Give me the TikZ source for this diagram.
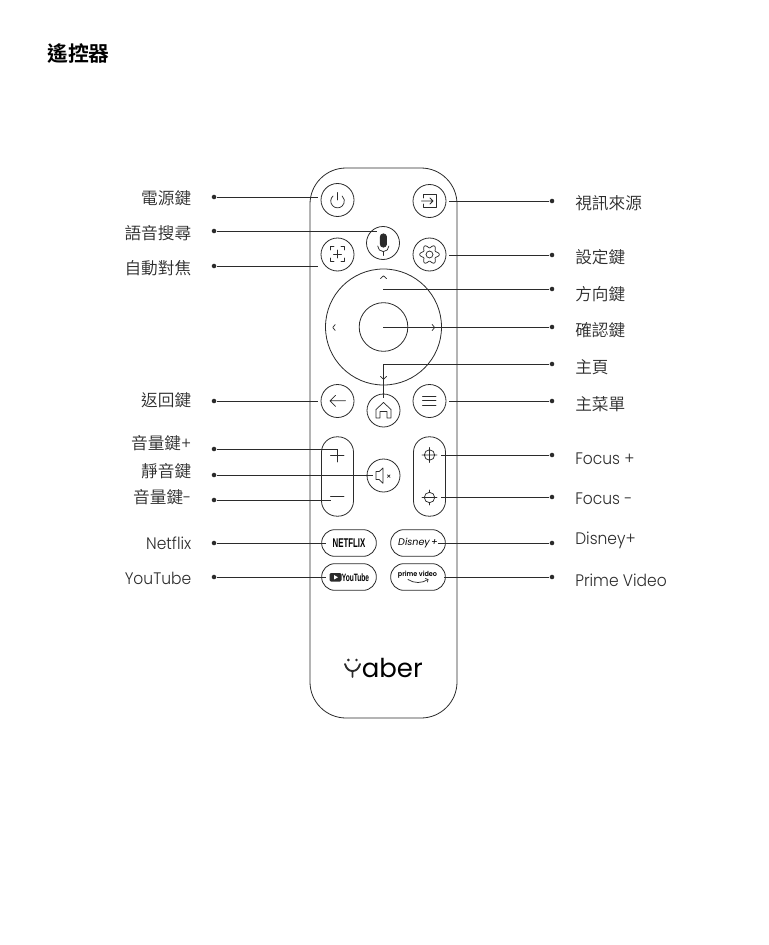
\documentclass[tikz,border=0pt]{standalone}
\usepackage{fontspec}
\usepackage{xcolor}
\setmainfont[FakeStretch=0.93]{Poppins Light}[BoldFont=Poppins SemiBold]
\newfontfamily\cjk{Noto Sans CJK TC DemiLight}[BoldFont=Noto Sans CJK TC Bold]
\newfontfamily\condfont[FakeStretch=0.62]{Liberation Sans}
\newfontfamily\logofont{Poppins}
\definecolor{inkline}{HTML}{2B2B2B}
\begin{document}
\begin{tikzpicture}[
            x=0.75pt, y=-0.75pt,
            btn/.style={circle, draw=inkline, line width=0.6pt, minimum size=24.75pt, inner sep=0pt},
            capsule/.style={rectangle, draw=inkline, line width=0.6pt, rounded corners=11.5pt, minimum width=24pt, minimum height=59.5pt, inner sep=0pt},
            pill/.style={rectangle, draw=inkline, line width=0.6pt, rounded corners=9.9pt, minimum width=41pt, minimum height=20pt, inner sep=0pt},
            pin/.style={circle, fill=inkline, minimum size=3.4pt, inner sep=0pt},
            leader/.style={draw=inkline, line width=0.55pt},
            icon/.style={draw=inkline, line width=0.55pt, line cap=round, line join=round},
            leftlabel/.style={anchor=east, inner sep=0pt, text=inkline, font=\fontsize{12.5}{14}\selectfont},
            rightlabel/.style={anchor=west, inner sep=0pt, text=inkline, font=\fontsize{12.5}{14}\selectfont}
        ]
            \useasboundingbox (0,0) rectangle (768,945);

            % Title
            \node[anchor=west, inner sep=0pt, font=\fontsize{15.6}{18}\selectfont\cjk\bfseries] (title) at (47,53.5) {遙控器};

            % Remote body
            \node[rectangle, draw=inkline, line width=0.6pt, rounded corners=27pt, minimum width=110.25pt, minimum height=412.5pt] (body) at (383.5,443) {};

            % Round buttons
            \node[btn] (power) at (337.5,200) {};
            \node[btn] (input) at (429.5,201) {};
            \node[btn] (mic) at (383,243) {};
            \node[btn] (autofocus) at (337.5,254.5) {};
            \node[btn] (settings) at (429.5,254.5) {};
            \node[btn] (back) at (337.5,401) {};
            \node[btn] (home) at (383.5,410.5) {};
            \node[btn] (menu) at (429.5,401) {};
            \node[btn] (mute) at (383.5,475.5) {};

            % Direction ring
            \node[circle, draw=inkline, line width=0.6pt, minimum size=87pt, inner sep=0pt] (ring) at (383.5,327) {};
            \node[circle, draw=inkline, line width=0.6pt, minimum size=36.5pt, inner sep=0pt] (okbtn) at (383.5,327) {};

            % Capsules
            \node[capsule] (volume) at (337.5,476.5) {};
            \node[capsule] (focusbar) at (429.5,476.5) {};

            % App buttons
            \node[pill, font=\fontsize{9.5}{10}\condfont\bfseries] (netflix) at (349,543) {NETFLIX};
            \node[pill] (disney) at (418,543) {};
            \node[pill] (youtube) at (349,577) {};
            \node[pill] (prime) at (418,577) {};
            \node[inner sep=0pt, font=\fontsize{7.2}{8}\logofont\itshape] (disneytext) at (418,543) {Disney\hspace{1pt}+};
            \node[inner sep=0pt, font=\fontsize{8}{9}\condfont\bfseries] (youtubetext) at (355.5,577.5) {YouTube};
            \node[inner sep=0pt, font=\fontsize{5.2}{6}\selectfont\bfseries] (primetext) at (417.5,574.5) {prime video};

            % Logo
            \node[anchor=base west, inner sep=0pt, font=\fontsize{19.5}{22}\logofont] (logo) at (361.5,677) {aber};

            % Left labels
            \node[leftlabel] (powerlabel) at (191.5,198) {\cjk 電源鍵};
            \node[leftlabel] (voicelabel) at (191.5,233.5) {\cjk 語音搜尋};
            \node[leftlabel] (autolabel) at (191.5,268.5) {\cjk 自動對焦};
            \node[leftlabel] (backlabel) at (191.5,400) {\cjk 返回鍵};
            \node[leftlabel] (uplabel) at (191.5,443) {{\cjk 音量鍵}+};
            \node[leftlabel] (mutelabel) at (191.5,471) {\cjk 靜音鍵};
            \node[leftlabel] (downlabel) at (191.5,497) {{\cjk 音量鍵}-};
            \node[leftlabel] (netflixlabel) at (191.5,543) {Netflix};
            \node[leftlabel] (youtubelabel) at (191.5,578) {YouTube};

            % Right labels
            \node[rightlabel] (inputlabel) at (575,203) {\cjk 視訊來源};
            \node[rightlabel] (setlabel) at (575,257) {\cjk 設定鍵};
            \node[rightlabel] (dirlabel) at (575,294) {\cjk 方向鍵};
            \node[rightlabel] (oklabel) at (575,330) {\cjk 確認鍵};
            \node[rightlabel] (homelabel) at (575,367) {\cjk 主頁};
            \node[rightlabel] (menulabel) at (575,404) {\cjk 主菜單};
            \node[rightlabel] (fpluslabel) at (575,458.5) {Focus +};
            \node[rightlabel] (fminuslabel) at (575,498.5) {Focus -};
            \node[rightlabel] (disneylabel) at (575,540) {Disney+};
            \node[rightlabel] (primelabel) at (575,580) {Prime Video};

            % Left pins
            \node[pin] (powerpin) at (214,197) {};
            \node[pin] (voicepin) at (214,231) {};
            \node[pin] (autopin) at (214,266) {};
            \node[pin] (backpin) at (214,401) {};
            \node[pin] (uppin) at (214,449) {};
            \node[pin] (mutepin) at (214,475) {};
            \node[pin] (downpin) at (214,500) {};
            \node[pin] (netflixpin) at (214,543) {};
            \node[pin] (youtubepin) at (214,577) {};

            % Right pins
            \node[pin] (inputpin) at (552,201) {};
            \node[pin] (setpin) at (552,255) {};
            \node[pin] (dirpin) at (552,289) {};
            \node[pin] (okpin) at (552,327) {};
            \node[pin] (homepin) at (552,364) {};
            \node[pin] (menupin) at (552,401) {};
            \node[pin] (fpluspin) at (552,455) {};
            \node[pin] (fminuspin) at (552,497) {};
            \node[pin] (disneypin) at (552,543) {};
            \node[pin] (primepin) at (552,577) {};

            % Free line ends
            \coordinate (powerend) at (318,197);
            \coordinate (voiceend) at (377,231);
            \coordinate (autoend) at (318,266);
            \coordinate (backend) at (318,401);
            \coordinate (upend) at (338,449);
            \coordinate (muteend) at (373,475);
            \coordinate (downend) at (331,500);
            \coordinate (netflixend) at (326,543);
            \coordinate (youtubeend) at (326,577);
            \coordinate (inputend) at (449,201);
            \coordinate (setend) at (449,255);
            \coordinate (dirend) at (383,289);
            \coordinate (okend) at (383,327);
            \coordinate (homeend) at (383,398);
            \coordinate (menuend) at (449,401);
            \coordinate (fplusend) at (441,455);
            \coordinate (fminusend) at (441,497);
            \coordinate (disneyend) at (438,543);
            \coordinate (primeend) at (444,577);

            % Leader lines
            \draw[leader] (powerpin) -- (powerend);
            \draw[leader] (voicepin) -- (voiceend);
            \draw[leader] (autopin) -- (autoend);
            \draw[leader] (backpin) -- (backend);
            \draw[leader] (uppin) -- (upend);
            \draw[leader] (mutepin) -- (muteend);
            \draw[leader] (downpin) -- (downend);
            \draw[leader] (netflixpin) -- (netflixend);
            \draw[leader] (youtubepin) -- (youtubeend);
            \draw[leader] (inputpin) -- (inputend);
            \draw[leader] (setpin) -- (setend);
            \draw[leader] (dirpin) -- (dirend);
            \draw[leader] (okpin) -- (okend);
            \draw[leader] (homepin) -| (homeend);
            \draw[leader] (menupin) -- (menuend);
            \draw[leader] (fpluspin) -- (fplusend);
            \draw[leader] (fminuspin) -- (fminusend);
            \draw[leader] (disneypin) -- (disneyend);
            \draw[leader] (primepin) -- (primeend);

            % Icons
            \draw[icon] (333,196) arc[start angle=132, end angle=408, radius=5.1pt];
            \draw[icon] (337.5,192.5) -- (337.5,200);
            \draw[icon] (423.5,198) -- (423.5,194.5) -- (436.5,194.5) -- (436.5,207) -- (423.5,207) -- (423.5,204);
            \draw[icon] (421.5,201) -- (433,201) (430,198) -- (433,201) -- (430,204);
            \draw[icon, fill=inkline] (380.2,237) arc[start angle=180, end angle=0, radius=2.4pt] -- (386.6,244) arc[start angle=0, end angle=-180, radius=2.4pt] -- cycle;
            \draw[icon] (377.7,246) arc[start angle=180, end angle=360, radius=4.2pt] (383.4,252) -- (383.4,255.5);
            \draw[icon] (330.5,250) -- (330.5,246.5) -- (334,246.5) (341,246.5) -- (344.5,246.5) -- (344.5,250) (344.5,258) -- (344.5,261.5) -- (341,261.5) (334,261.5) -- (330.5,261.5) -- (330.5,258) (333.5,254) -- (341.5,254) (337.5,250) -- (337.5,258);
            \draw[icon] plot[domain=0:360, samples=73, smooth] ({429.5+(8.2+1.6*cos(6*\x))*cos(\x)},{254.5+(8.2+1.6*cos(6*\x))*sin(\x)});
            \draw[icon] (429.5,254.5) circle[radius=2.6pt];
            \draw[icon] (380.5,278.5) -- (383.5,275.8) -- (386.5,278.5);
            \draw[icon] (335.2,324.5) -- (332.8,327.5) -- (335.2,330.5);
            \draw[icon] (432.2,324.5) -- (434.6,327.5) -- (432.2,330.5);
            \draw[icon] (380.5,376.5) -- (383.5,379.2) -- (386.5,376.5);
            \draw[icon] (345.5,400.8) -- (330,400.8) (335.5,395.3) -- (330,400.8) -- (335.5,406.3);
            \draw[icon] (383.5,402.5) -- (391,409.5) -- (391,418) -- (387,418) -- (387,411.5) -- (380,411.5) -- (380,418) -- (376,418) -- (376,409.5) -- cycle;
            \draw[icon] (422.5,396.2) -- (436,396.2) (422.5,400.8) -- (436,400.8) (422.5,405.4) -- (436,405.4);
            \draw[icon] (330.5,455) -- (344,455) (337.5,449.5) -- (337.5,462);
            \draw[icon] (330.5,496.5) -- (344,496.5);
            \draw[icon] (376,471.5) -- (379.2,471.5) -- (383,468) -- (383,483.3) -- (379.2,479.5) -- (376,479.5) -- cycle;
            \draw[icon] (387.5,474.8) -- (390,477.3) (390,474.8) -- (387.5,477.3);
            \draw[icon] (429.5,455) circle[radius=3.9pt] (422,455) -- (437,455) (429.5,447.5) -- (429.5,462.5);
            \draw[icon] (429.5,497.5) circle[radius=3.9pt] (422,497.5) -- (437,497.5) (429.5,490) -- (429.5,492.2) (429.5,502.8) -- (429.5,505);
            \fill[inkline, rounded corners=1pt] (329.5,573) rectangle (341.5,581.5);
            \fill[white] (334,575) -- (338,577.3) -- (334,579.5) -- cycle;
            \draw[icon] (408,579.5) .. controls (414,583.5) and (422,583.5) .. (428,579.5);
            \draw[icon] (425.5,578.5) -- (428,579.5) -- (427.5,582);
            % Logo mark
            \draw[icon, line width=1.4pt] (345,664) .. controls (346.5,669) and (349,671) .. (352.5,671) .. controls (356,671) and (358.5,669) .. (360,664) (352.5,671) -- (352.5,677);
            \fill[inkline] (348.3,660) circle[radius=1.1pt] (356.5,660) circle[radius=1.1pt];
        \end{tikzpicture}
\end{document}
